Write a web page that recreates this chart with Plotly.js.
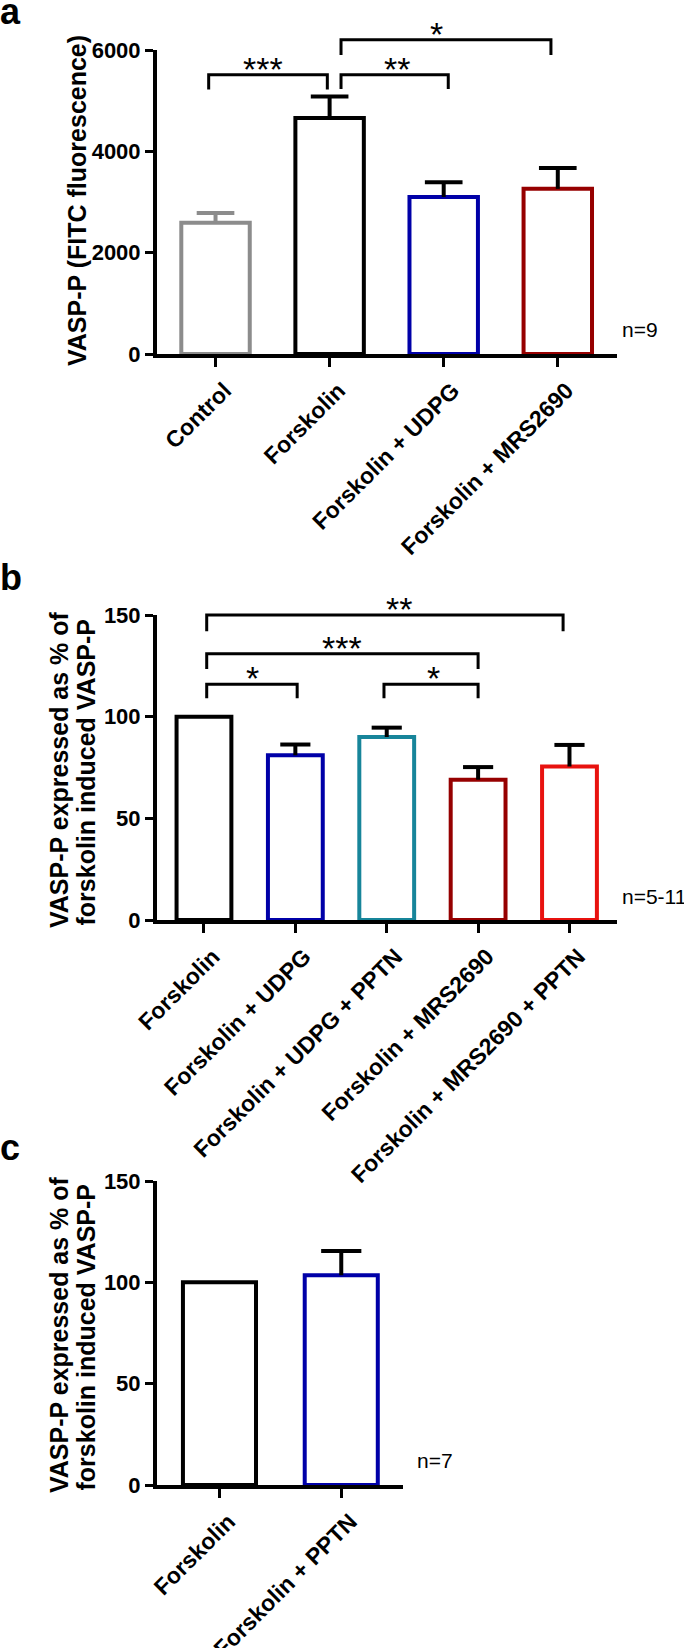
<!DOCTYPE html>
<html>
<head>
<meta charset="utf-8">
<script src="https://cdn.plot.ly/plotly-3.0.1.min.js"></script>
<style>html,body{margin:0;padding:0;background:#fff;}#chart{width:684px;height:1648px;}</style>
</head>
<body>
<div id="chart"></div>
<script>
// ---------- DATA ----------
// Panel a
const catsA = ['Control', 'Forskolin', 'Forskolin + UDPG', 'Forskolin + MRS2690'];
const valsA = [2590, 4660, 3100, 3260];
const errA = [195, 420, 290, 410];
const colorsA = ['#8c8c8c', '#000000', '#0000a8', '#960000'];
const errColorsA = ['#8c8c8c', '#000000', '#000000', '#000000'];
const yTicksA = [0, 2000, 4000, 6000];
const nA = 'n=9';
const yTitleA = 'VASP-P (FITC fluorescence)';

// Panel b
const catsB = ['Forskolin', 'Forskolin + UDPG', 'Forskolin + UDPG + PPTN', 'Forskolin + MRS2690', 'Forskolin + MRS2690 + PPTN'];
const valsB = [100, 81, 90, 69, 75.5];
const errB = [null, 5.3, 4.6, 6.2, 10.6];
const colorsB = ['#000000', '#0000a8', '#17859a', '#960000', '#e8120f'];
const yTicksB = [0, 50, 100, 150];
const nB = 'n=5-11';

// Panel c
const catsC = ['Forskolin', 'Forskolin + PPTN'];
const valsC = [100, 103.5];
const errC = [null, 12];
const colorsC = ['#000000', '#0000a8'];
const yTicksC = [0, 50, 100, 150];
const nC = 'n=7';

const yTitleBC = ['VASP-P expressed as % of', 'forskolin induced VASP-P'];

// significance brackets: [from, to, label]
const sigA = [['Control', 'Forskolin', '***'], ['Forskolin', 'Forskolin + UDPG', '**'], ['Forskolin', 'Forskolin + MRS2690', '*']];
const sigB = [['Forskolin', 'Forskolin + MRS2690 + PPTN', '**'], ['Forskolin', 'Forskolin + MRS2690', '***'], ['Forskolin', 'Forskolin + UDPG', '*'], ['Forskolin + UDPG + PPTN', 'Forskolin + MRS2690', '*']];

// ---------- LAYOUT HELPERS ----------
const W = 684, H = 1648;
const F = 'Liberation Sans, Arial, sans-serif';
const py = p => 1 - p / H;
const pxf = p => p / W;
const CAP = 0.165; // error-bar cap half width, category units

// bracket geometry (layout): x offsets in category units, heights in data units
const geoA = [
  {x0: -0.06, x1: 0.98, top: 5510, bot: 5220, tx: 0.42},
  {x0: 1.10, x1: 2.04, top: 5510, bot: 5230, tx: 1.59},
  {x0: 1.10, x1: 2.94, top: 6200, bot: 5900, tx: 1.94}
];
const geoB = [
  {x0: 0.03, x1: 3.93, top: 150, bot: 142, tx: 2.13},
  {x0: 0.03, x1: 3.00, top: 131, bot: 123.5, tx: 1.51},
  {x0: 0.03, x1: 1.02, top: 116, bot: 109, tx: 0.53},
  {x0: 1.97, x1: 3.00, top: 116, bot: 109, tx: 2.51}
];

const panels = [
  {cats: catsA, vals: valsA, errs: errA, colors: colorsA, errColors: errColorsA, ticks: yTicksA, ymax: 6000,
   xd: [157, 617], yd: [50, 354], range: [-0.513, 3.519], sig: sigA, geo: geoA, n: nA, nPos: [620, 330], ax: ''},
  {cats: catsB, vals: valsB, errs: errB, colors: colorsB, errColors: null, ticks: yTicksB, ymax: 150,
   xd: [157, 617], yd: [615, 920], range: [-0.514, 4.52], sig: sigB, geo: geoB, n: nB, nPos: [620, 896], ax: '2'},
  {cats: catsC, vals: valsC, errs: errC, colors: colorsC, errColors: null, ticks: yTicksC, ymax: 150,
   xd: [157, 403], yd: [1181, 1485], range: [-0.513, 1.507], sig: [], geo: [], n: nC, nPos: [415, 1460], ax: '3'}
];

const traces = [];
const layout = {
  width: W, height: H, margin: {l: 0, r: 0, t: 0, b: 0},
  paper_bgcolor: '#ffffff', plot_bgcolor: 'rgba(0,0,0,0)',
  showlegend: false, barmode: 'overlay',
  shapes: [], annotations: [],
  font: {family: F, color: '#000'}
};

panels.forEach((p) => {
  const xa = 'x' + p.ax, ya = 'y' + p.ax;
  const idx = p.cats.map((c, i) => i);
  // hollow bars
  p.cats.forEach((c, i) => {
    traces.push({
      type: 'bar', x: [i], y: [p.vals[i]], width: 0.6,
      xaxis: xa, yaxis: ya, hoverinfo: 'skip',
      marker: {color: 'rgba(255,255,255,0)', line: {color: p.colors[i], width: 4}}
    });
  });
  // upper-only error bars (SEM), grouped by colour
  const byColor = {};
  p.cats.forEach((c, i) => {
    const e = p.errs[i];
    if (e == null) return;
    const col = p.errColors ? p.errColors[i] : '#000000';
    if (!byColor[col]) byColor[col] = {x: [], y: []};
    const v = p.vals[i], t = v + e;
    byColor[col].x.push(i, i, null, i - CAP, i + CAP, null);
    byColor[col].y.push(v, t, null, t, t, null);
  });
  Object.keys(byColor).forEach(col => {
    traces.push({type: 'scatter', mode: 'lines', x: byColor[col].x, y: byColor[col].y,
      xaxis: xa, yaxis: ya, hoverinfo: 'skip', line: {color: col, width: 4}, connectgaps: false});
  });
  const common = {showline: true, linewidth: 4, linecolor: '#000', ticks: 'outside', tickcolor: '#000',
    showgrid: false, zeroline: false, fixedrange: true};
  layout['xaxis' + p.ax] = Object.assign({}, common, {
    domain: [pxf(p.xd[0]), pxf(p.xd[1])], range: p.range, anchor: ya,
    tickvals: idx, ticktext: p.cats, tickangle: -45, ticklen: 9, tickwidth: 3,
    ticklabelshift: 9, ticklabelstandoff: 1,
    tickfont: {family: F, size: 23, weight: 'bold', color: '#000'}
  });
  layout['yaxis' + p.ax] = Object.assign({}, common, {
    domain: [py(p.yd[1]), py(p.yd[0])], range: [0, p.ymax], anchor: xa,
    tickvals: p.ticks, ticktext: p.ticks.map(String), ticklen: 8, tickwidth: 3,
    tickfont: {family: F, size: 22, weight: 'bold', color: '#000'}
  });
  // significance brackets
  p.sig.forEach((s, j) => {
    const g = p.geo[j];
    const yt = g.top / p.ymax, yb = g.bot / p.ymax;
    layout.shapes.push({type: 'path', xref: xa, yref: ya + ' domain',
      path: `M ${g.x0},${yb} L ${g.x0},${yt} L ${g.x1},${yt} L ${g.x1},${yb}`,
      line: {color: '#000', width: 3}});
    layout.annotations.push({xref: xa, yref: ya + ' domain', x: g.tx, y: yt, xanchor: 'center', yanchor: 'middle',
      yshift: 6, text: s[2], showarrow: false, font: {family: F, size: 34, color: '#000'}});
  });
  // n label
  layout.annotations.push({xref: 'paper', yref: 'paper', x: pxf(p.nPos[0]), y: py(p.nPos[1]),
    xanchor: 'left', yanchor: 'middle', text: p.n, showarrow: false, font: {family: F, size: 21, color: '#000'}});
});

// y axis titles
layout.annotations.push({xref: 'paper', yref: 'paper', x: pxf(77), y: py(201), xanchor: 'center', yanchor: 'middle',
  textangle: -90, text: yTitleA, showarrow: false, font: {family: F, size: 25, weight: 'bold', color: '#000'}});
[770, 1335].forEach((yc) => {
  layout.annotations.push({xref: 'paper', yref: 'paper', x: pxf(59), y: py(yc), xanchor: 'center', yanchor: 'middle',
    textangle: -90, text: yTitleBC[0], showarrow: false, font: {family: F, size: 25, weight: 'bold', color: '#000'}});
  layout.annotations.push({xref: 'paper', yref: 'paper', x: pxf(85.5), y: py(yc + 2), xanchor: 'center', yanchor: 'middle',
    textangle: -90, text: yTitleBC[1], showarrow: false, font: {family: F, size: 25, weight: 'bold', color: '#000'}});
});

// panel letters
[['a', 12], ['b', 577.5], ['c', 1147]].forEach(([t, yc]) => {
  layout.annotations.push({xref: 'paper', yref: 'paper', x: pxf(-2), y: py(yc), xanchor: 'left', yanchor: 'middle',
    text: t, showarrow: false, font: {family: F, size: 36, weight: 'bold', color: '#000'}});
});

Plotly.newPlot('chart', traces, layout, {staticPlot: true, displayModeBar: false});
</script>
</body>
</html>
